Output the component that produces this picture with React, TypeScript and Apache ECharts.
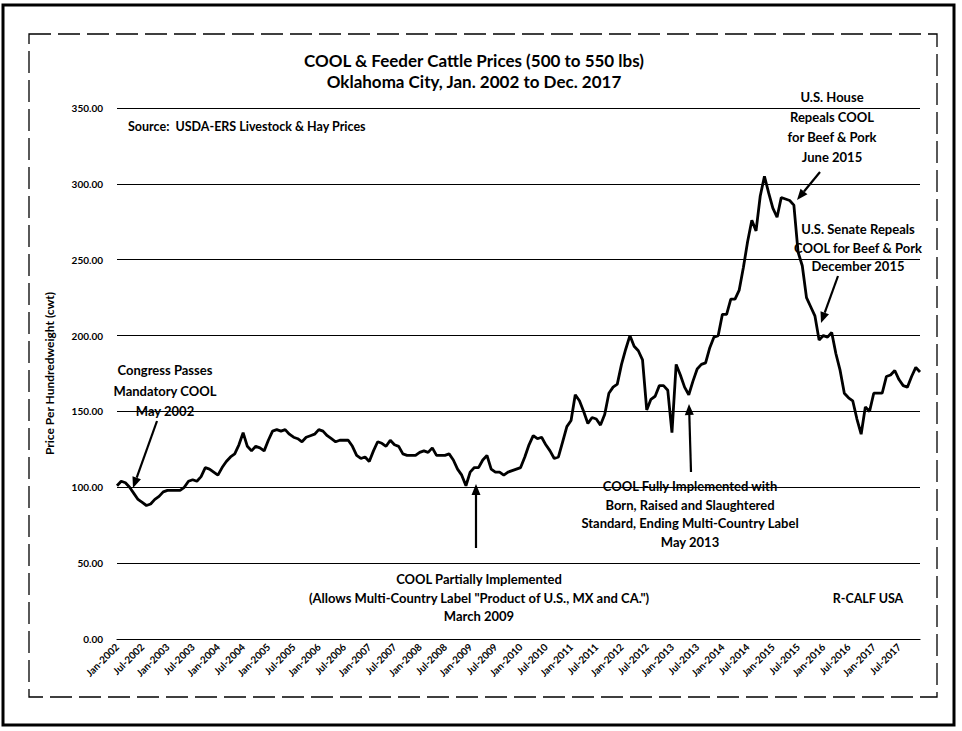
import React, { useEffect, useRef } from "react";
import * as echarts from "echarts";

const years = [2002, 2003, 2004, 2005, 2006, 2007, 2008, 2009, 2010, 2011, 2012, 2013, 2014, 2015, 2016, 2017];
const monthNames = ["Jan", "Feb", "Mar", "Apr", "May", "Jun", "Jul", "Aug", "Sep", "Oct", "Nov", "Dec"];
const categories: string[] = [];
years.forEach((y) => monthNames.forEach((m) => categories.push(`${m}-${y}`)));

// Monthly feeder cattle prices ($/cwt)
const p2002 = [101, 104, 103, 100, 96, 92, 90, 88, 89, 92, 94, 97];
const p2003 = [98, 98, 98, 98, 100, 104, 105, 104, 107, 113, 112, 110];
const p2004 = [108, 113, 117, 120, 122, 128, 136, 127, 124, 127, 126, 124];
const p2005 = [131, 137, 138, 137, 138, 135, 133, 132, 130, 133, 134, 135];
const p2006 = [138, 137, 134, 132, 130, 131, 131, 131, 127, 121, 119, 120];
const p2007 = [117, 124, 130, 129, 127, 131, 128, 127, 122, 121, 121, 121];
const p2008 = [123, 124, 123, 126, 121, 121, 121, 122, 118, 112, 108, 101];
const p2009 = [110, 113, 113, 118, 121, 112, 110, 110, 108, 110, 111, 112];
const p2010 = [113, 120, 128, 134, 132, 133, 128, 124, 119, 120, 130, 140];
const p2011 = [144, 161, 157, 150, 142, 146, 145, 141, 148, 162, 166, 168];
const p2012 = [181, 191, 200, 193, 190, 184, 151, 158, 160, 167, 167, 164];
const p2013 = [136, 181, 174, 166, 161, 170, 178, 181, 182, 192, 199, 200];
const p2014 = [214, 214, 224, 224, 230, 245, 262, 276, 269, 292, 305, 294];
const p2015 = [284, 278, 291, 290, 289, 286, 255, 246, 225, 219, 213, 197];
const p2016 = [200, 199, 202, 188, 177, 162, 159, 157, 145, 135, 153, 150];
const p2017 = [162, 162, 162, 173, 174, 177, 171, 167, 166, 173, 179, 176];
const prices = [
  ...p2002, ...p2003, ...p2004, ...p2005, ...p2006, ...p2007, ...p2008, ...p2009,
  ...p2010, ...p2011, ...p2012, ...p2013, ...p2014, ...p2015, ...p2016, ...p2017,
];

const yTicks = [0, 50, 100, 150, 200, 250, 300, 350];

const FONT = "Lato, 'Open Sans', sans-serif";

function arrow(x1: number, y1: number, x2: number, y2: number) {
  const dx = x2 - x1;
  const dy = y2 - y1;
  const len = Math.sqrt(dx * dx + dy * dy);
  const ux = dx / len;
  const uy = dy / len;
  const hl = 11;
  const hw = 4.5;
  const bx = x2 - ux * hl;
  const by = y2 - uy * hl;
  return [
    {
      type: "line",
      shape: { x1, y1, x2: bx, y2: by },
      style: { stroke: "#000", lineWidth: 2.2 },
    },
    {
      type: "polygon",
      shape: {
        points: [
          [x2, y2],
          [bx - uy * hw, by + ux * hw],
          [bx + uy * hw, by - ux * hw],
        ],
      },
      style: { fill: "#000" },
    },
  ];
}

function textBlock(lines: string[], cx: number, y0: number, lh: number, size = 13) {
  return lines.map((t, i) => ({
    type: "text",
    x: cx,
    y: y0 + i * lh,
    style: {
      text: t,
      fill: "#000",
      font: `bold ${size}px ${FONT}`,
      align: "center",
      verticalAlign: "middle",
    },
  }));
}

export default function App() {
  const ref = useRef<HTMLDivElement>(null);
  useEffect(() => {
    if (!ref.current) return;
    const chart = echarts.init(ref.current, undefined, { renderer: "svg" });
    chart.setOption({
      animation: false,
      backgroundColor: "#fff",
      grid: { left: 117, right: 42, top: 108, bottom: 92 },
      xAxis: {
        type: "category",
        data: categories,
        boundaryGap: false,
        axisTick: { show: false },
        axisLine: { show: true, lineStyle: { color: "#000", width: 1.2 } },
        axisLabel: {
          interval: 5,
          rotate: 45,
          margin: 6,
          color: "#000",
          fontSize: 10,
          fontWeight: "bold",
          fontFamily: FONT,
        },
        splitLine: { show: false },
      },
      yAxis: {
        type: "value",
        min: yTicks[0],
        max: yTicks[yTicks.length - 1],
        interval: 50,
        name: "Price Per Hundredweight (cwt)",
        nameLocation: "middle",
        nameGap: 62,
        nameTextStyle: { color: "#000", fontSize: 12, fontWeight: "bold", fontFamily: FONT },
        axisLine: { show: false },
        axisTick: { show: false },
        axisLabel: {
          color: "#000",
          fontSize: 10,
          fontWeight: "bold",
          fontFamily: FONT,
          margin: 14,
          formatter: (v: number) => v.toFixed(2),
        },
        splitLine: { show: true, lineStyle: { color: "#000", width: 1.2 } },
      },
      series: [
        {
          type: "line",
          data: prices,
          showSymbol: false,
          symbol: "none",
          lineStyle: { color: "#000", width: 2.8 },
          z: 5,
        },
      ],
      graphic: [
        {
          type: "rect",
          shape: { x: 3, y: 5, width: 951, height: 720 },
          style: { fill: "none", stroke: "#000", lineWidth: 3 },
          silent: true,
        },
        {
          type: "rect",
          shape: { x: 29, y: 34, width: 908, height: 663 },
          style: { fill: "none", stroke: "#000", lineWidth: 1.3, lineDash: [22, 7] },
          silent: true,
        },
        ...textBlock(["COOL & Feeder Cattle Prices (500 to 550 lbs)", "Oklahoma City, Jan. 2002 to Dec. 2017"], 474, 60, 21, 17),
        {
          type: "text",
          x: 128,
          y: 126,
          style: {
            text: "Source:  USDA-ERS Livestock & Hay Prices",
            fill: "#000",
            font: `bold 12.5px ${FONT}`,
            align: "left",
            verticalAlign: "middle",
          },
        },
        ...textBlock(["Congress Passes", "Mandatory COOL", "May 2002"], 165, 370, 20.5),
        ...arrow(157, 421, 133, 488),
        ...textBlock(["U.S. House", "Repeals COOL", "for Beef & Pork", "June 2015"], 832, 97, 20),
        ...arrow(820, 172, 797, 200),
        ...textBlock(["U.S. Senate Repeals", "COOL for Beef & Pork", "December 2015"], 858, 229, 18.5),
        ...arrow(838, 276, 821, 323),
        ...textBlock(
          [
            "COOL Fully Implemented with",
            "Born, Raised and Slaughtered",
            "Standard, Ending Multi-Country Label",
            "May 2013",
          ],
          690,
          486,
          18.5
        ),
        ...arrow(691, 472, 689, 404),
        ...textBlock(
          [
            "COOL Partially Implemented",
            "(Allows Multi-Country Label \"Product of U.S., MX and CA.\")",
            "March 2009",
          ],
          479,
          579,
          18.5
        ),
        ...arrow(476, 548, 476, 484),
        ...textBlock(["R-CALF USA"], 868, 598, 18, 12.5),
      ],
    });
    return () => chart.dispose();
  }, []);
  return (
    <div
      ref={ref}
      style={{ position: "absolute", left: 0, top: 0, width: 962, height: 731 }}
    />
  );
}
